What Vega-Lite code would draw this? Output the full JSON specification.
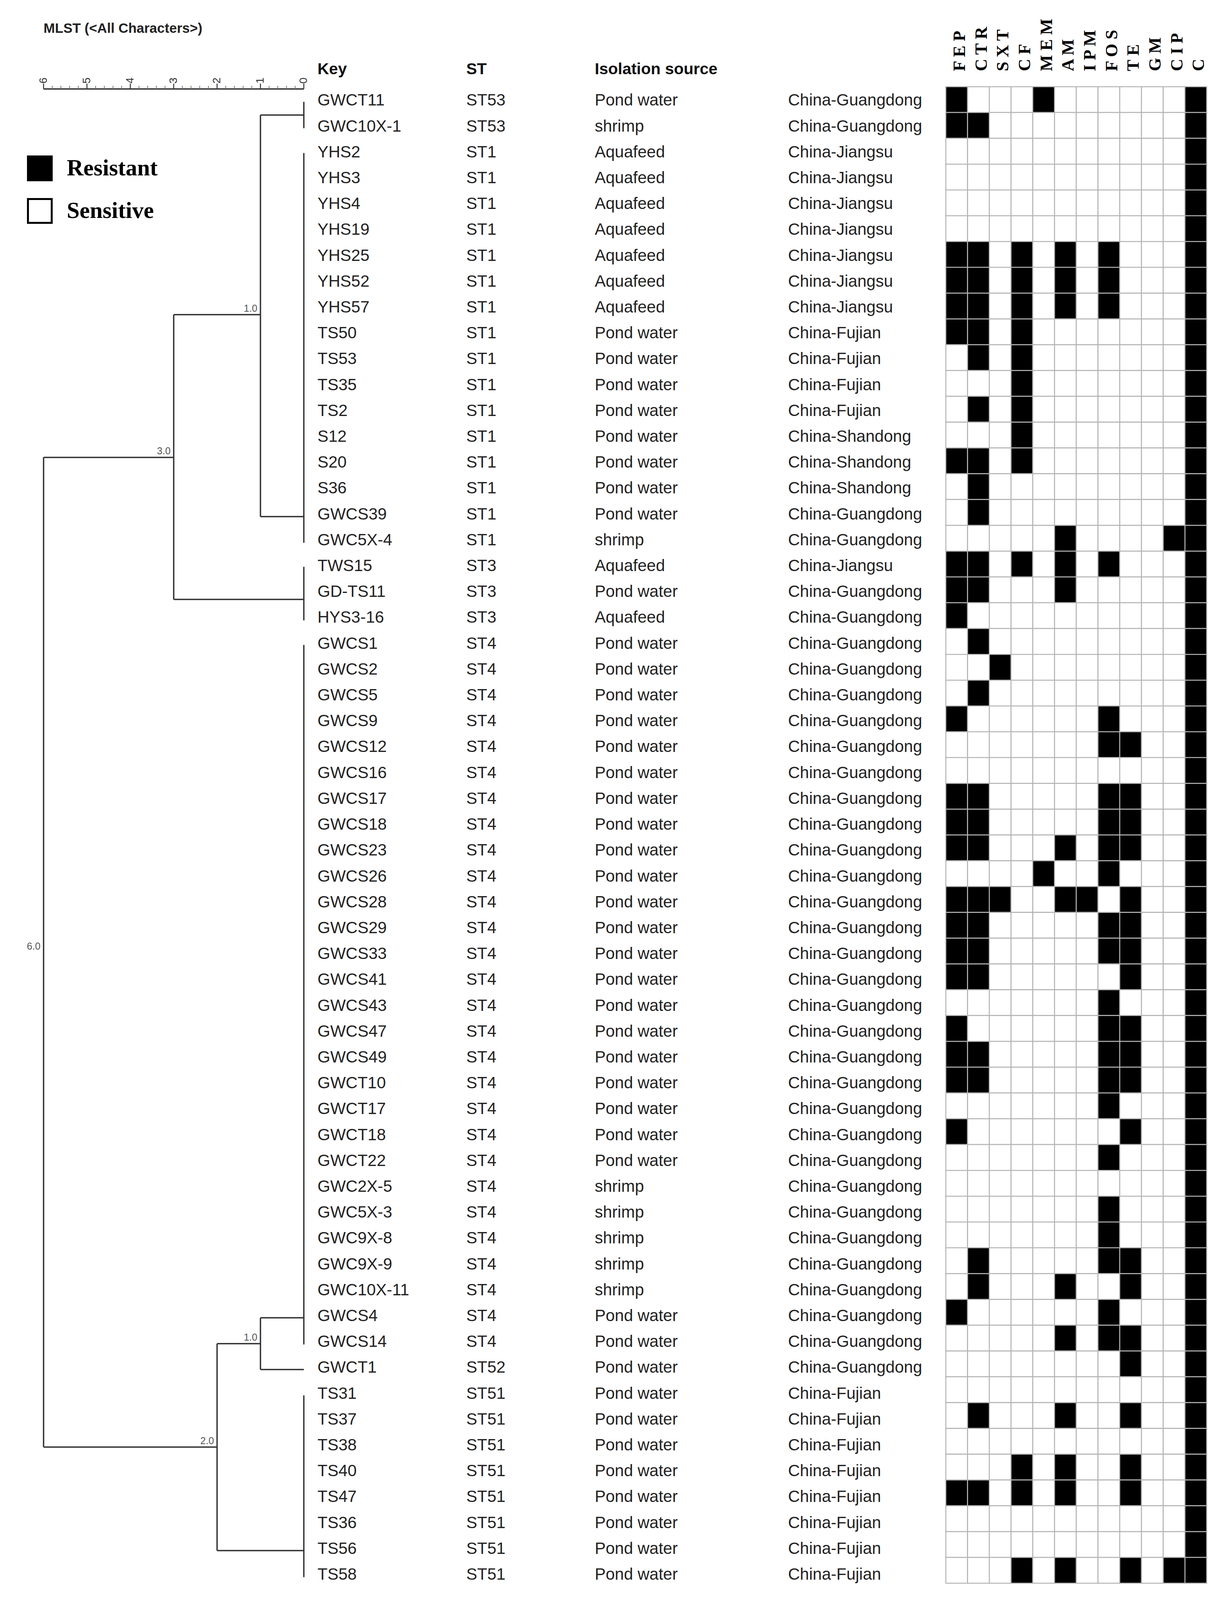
{
"$schema":"https://vega.github.io/schema/vega-lite/v6.json",
"width":3142,"height":4096,
"autosize":{"type":"fit","contains":"padding"},
"padding":0,
"background":"white",
"config":{"view":{"stroke":null},"text":{"font":"Liberation Sans"}},
"datasets":{
"strains":[
{"row":1,"key":"GWCT11","st":"ST53","source":"Pond water","region":"China-Guangdong"},
{"row":2,"key":"GWC10X-1","st":"ST53","source":"shrimp","region":"China-Guangdong"},
{"row":3,"key":"YHS2","st":"ST1","source":"Aquafeed","region":"China-Jiangsu"},
{"row":4,"key":"YHS3","st":"ST1","source":"Aquafeed","region":"China-Jiangsu"},
{"row":5,"key":"YHS4","st":"ST1","source":"Aquafeed","region":"China-Jiangsu"},
{"row":6,"key":"YHS19","st":"ST1","source":"Aquafeed","region":"China-Jiangsu"},
{"row":7,"key":"YHS25","st":"ST1","source":"Aquafeed","region":"China-Jiangsu"},
{"row":8,"key":"YHS52","st":"ST1","source":"Aquafeed","region":"China-Jiangsu"},
{"row":9,"key":"YHS57","st":"ST1","source":"Aquafeed","region":"China-Jiangsu"},
{"row":10,"key":"TS50","st":"ST1","source":"Pond water","region":"China-Fujian"},
{"row":11,"key":"TS53","st":"ST1","source":"Pond water","region":"China-Fujian"},
{"row":12,"key":"TS35","st":"ST1","source":"Pond water","region":"China-Fujian"},
{"row":13,"key":"TS2","st":"ST1","source":"Pond water","region":"China-Fujian"},
{"row":14,"key":"S12","st":"ST1","source":"Pond water","region":"China-Shandong"},
{"row":15,"key":"S20","st":"ST1","source":"Pond water","region":"China-Shandong"},
{"row":16,"key":"S36","st":"ST1","source":"Pond water","region":"China-Shandong"},
{"row":17,"key":"GWCS39","st":"ST1","source":"Pond water","region":"China-Guangdong"},
{"row":18,"key":"GWC5X-4","st":"ST1","source":"shrimp","region":"China-Guangdong"},
{"row":19,"key":"TWS15","st":"ST3","source":"Aquafeed","region":"China-Jiangsu"},
{"row":20,"key":"GD-TS11","st":"ST3","source":"Pond water","region":"China-Guangdong"},
{"row":21,"key":"HYS3-16","st":"ST3","source":"Aquafeed","region":"China-Guangdong"},
{"row":22,"key":"GWCS1","st":"ST4","source":"Pond water","region":"China-Guangdong"},
{"row":23,"key":"GWCS2","st":"ST4","source":"Pond water","region":"China-Guangdong"},
{"row":24,"key":"GWCS5","st":"ST4","source":"Pond water","region":"China-Guangdong"},
{"row":25,"key":"GWCS9","st":"ST4","source":"Pond water","region":"China-Guangdong"},
{"row":26,"key":"GWCS12","st":"ST4","source":"Pond water","region":"China-Guangdong"},
{"row":27,"key":"GWCS16","st":"ST4","source":"Pond water","region":"China-Guangdong"},
{"row":28,"key":"GWCS17","st":"ST4","source":"Pond water","region":"China-Guangdong"},
{"row":29,"key":"GWCS18","st":"ST4","source":"Pond water","region":"China-Guangdong"},
{"row":30,"key":"GWCS23","st":"ST4","source":"Pond water","region":"China-Guangdong"},
{"row":31,"key":"GWCS26","st":"ST4","source":"Pond water","region":"China-Guangdong"},
{"row":32,"key":"GWCS28","st":"ST4","source":"Pond water","region":"China-Guangdong"},
{"row":33,"key":"GWCS29","st":"ST4","source":"Pond water","region":"China-Guangdong"},
{"row":34,"key":"GWCS33","st":"ST4","source":"Pond water","region":"China-Guangdong"},
{"row":35,"key":"GWCS41","st":"ST4","source":"Pond water","region":"China-Guangdong"},
{"row":36,"key":"GWCS43","st":"ST4","source":"Pond water","region":"China-Guangdong"},
{"row":37,"key":"GWCS47","st":"ST4","source":"Pond water","region":"China-Guangdong"},
{"row":38,"key":"GWCS49","st":"ST4","source":"Pond water","region":"China-Guangdong"},
{"row":39,"key":"GWCT10","st":"ST4","source":"Pond water","region":"China-Guangdong"},
{"row":40,"key":"GWCT17","st":"ST4","source":"Pond water","region":"China-Guangdong"},
{"row":41,"key":"GWCT18","st":"ST4","source":"Pond water","region":"China-Guangdong"},
{"row":42,"key":"GWCT22","st":"ST4","source":"Pond water","region":"China-Guangdong"},
{"row":43,"key":"GWC2X-5","st":"ST4","source":"shrimp","region":"China-Guangdong"},
{"row":44,"key":"GWC5X-3","st":"ST4","source":"shrimp","region":"China-Guangdong"},
{"row":45,"key":"GWC9X-8","st":"ST4","source":"shrimp","region":"China-Guangdong"},
{"row":46,"key":"GWC9X-9","st":"ST4","source":"shrimp","region":"China-Guangdong"},
{"row":47,"key":"GWC10X-11","st":"ST4","source":"shrimp","region":"China-Guangdong"},
{"row":48,"key":"GWCS4","st":"ST4","source":"Pond water","region":"China-Guangdong"},
{"row":49,"key":"GWCS14","st":"ST4","source":"Pond water","region":"China-Guangdong"},
{"row":50,"key":"GWCT1","st":"ST52","source":"Pond water","region":"China-Guangdong"},
{"row":51,"key":"TS31","st":"ST51","source":"Pond water","region":"China-Fujian"},
{"row":52,"key":"TS37","st":"ST51","source":"Pond water","region":"China-Fujian"},
{"row":53,"key":"TS38","st":"ST51","source":"Pond water","region":"China-Fujian"},
{"row":54,"key":"TS40","st":"ST51","source":"Pond water","region":"China-Fujian"},
{"row":55,"key":"TS47","st":"ST51","source":"Pond water","region":"China-Fujian"},
{"row":56,"key":"TS36","st":"ST51","source":"Pond water","region":"China-Fujian"},
{"row":57,"key":"TS56","st":"ST51","source":"Pond water","region":"China-Fujian"},
{"row":58,"key":"TS58","st":"ST51","source":"Pond water","region":"China-Fujian"}
],
"branches":[
{"d1":0,"d2":0,"r1":1.05,"r2":2.07},
{"d1":0,"d2":1,"r1":1.56,"r2":1.56},
{"d1":0,"d2":0,"r1":3.03,"r2":18.1},
{"d1":0,"d2":1,"r1":17.09,"r2":17.09},
{"d1":1,"d2":1,"r1":1.56,"r2":17.09},
{"d1":1,"d2":3,"r1":9.28,"r2":9.28},
{"d1":0,"d2":0,"r1":19.03,"r2":21.1},
{"d1":0,"d2":3,"r1":20.29,"r2":20.29},
{"d1":3,"d2":3,"r1":9.28,"r2":20.29},
{"d1":3,"d2":6,"r1":14.8,"r2":14.8},
{"d1":6,"d2":6,"r1":14.8,"r2":53.07},
{"d1":6,"d2":2,"r1":53.07,"r2":53.07},
{"d1":2,"d2":2,"r1":49.07,"r2":57.07},
{"d1":2,"d2":1,"r1":49.07,"r2":49.07},
{"d1":1,"d2":1,"r1":48.07,"r2":50.07},
{"d1":1,"d2":0,"r1":48.07,"r2":48.07},
{"d1":1,"d2":0,"r1":50.07,"r2":50.07},
{"d1":0,"d2":0,"r1":22.05,"r2":49.1},
{"d1":2,"d2":0,"r1":57.07,"r2":57.07},
{"d1":0,"d2":0,"r1":51.07,"r2":58.1},
{"d1":6,"d2":0,"r1":0.551,"r2":0.551}
],
"nodes":[
{"dist":1,"row":9.28,"label":"1.0"},
{"dist":3,"row":14.8,"label":"3.0"},
{"dist":6,"row":33.95,"label":"6.0"},
{"dist":1,"row":49.07,"label":"1.0"},
{"dist":2,"row":53.07,"label":"2.0"}
],
"scaleMajor":[
{"dist":6,"label":"6"},{"dist":5,"label":"5"},{"dist":4,"label":"4"},{"dist":3,"label":"3"},{"dist":2,"label":"2"},{"dist":1,"label":"1"},{"dist":0,"label":"0"}
],
"scaleMinor":[
{"dist":5.8},{"dist":5.6},{"dist":5.4},{"dist":5.2},{"dist":4.8},{"dist":4.6},{"dist":4.4},{"dist":4.2},{"dist":3.8},{"dist":3.6},{"dist":3.4},{"dist":3.2},{"dist":2.8},{"dist":2.6},{"dist":2.4},{"dist":2.2},{"dist":1.8},{"dist":1.6},{"dist":1.4},{"dist":1.2},{"dist":0.8},{"dist":0.6},{"dist":0.4},{"dist":0.2}
],
"drugs":[
{"drug":"FEP","label":"F E P"},{"drug":"CTR","label":"C T R"},{"drug":"SXT","label":"S X T"},{"drug":"CF","label":"C F"},{"drug":"MEM","label":"M E M"},{"drug":"AM","label":"A M"},{"drug":"IPM","label":"I P M"},{"drug":"FOS","label":"F O S"},{"drug":"TE","label":"T E"},{"drug":"GM","label":"G M"},{"drug":"CIP","label":"C I P"},{"drug":"C","label":"C"}
],
"cells":[
{"row":1,"drug":"FEP","res":"R"},{"row":1,"drug":"CTR","res":"S"},{"row":1,"drug":"SXT","res":"S"},{"row":1,"drug":"CF","res":"S"},{"row":1,"drug":"MEM","res":"R"},{"row":1,"drug":"AM","res":"S"},{"row":1,"drug":"IPM","res":"S"},{"row":1,"drug":"FOS","res":"S"},{"row":1,"drug":"TE","res":"S"},{"row":1,"drug":"GM","res":"S"},{"row":1,"drug":"CIP","res":"S"},{"row":1,"drug":"C","res":"R"},
{"row":2,"drug":"FEP","res":"R"},{"row":2,"drug":"CTR","res":"R"},{"row":2,"drug":"SXT","res":"S"},{"row":2,"drug":"CF","res":"S"},{"row":2,"drug":"MEM","res":"S"},{"row":2,"drug":"AM","res":"S"},{"row":2,"drug":"IPM","res":"S"},{"row":2,"drug":"FOS","res":"S"},{"row":2,"drug":"TE","res":"S"},{"row":2,"drug":"GM","res":"S"},{"row":2,"drug":"CIP","res":"S"},{"row":2,"drug":"C","res":"R"},
{"row":3,"drug":"FEP","res":"S"},{"row":3,"drug":"CTR","res":"S"},{"row":3,"drug":"SXT","res":"S"},{"row":3,"drug":"CF","res":"S"},{"row":3,"drug":"MEM","res":"S"},{"row":3,"drug":"AM","res":"S"},{"row":3,"drug":"IPM","res":"S"},{"row":3,"drug":"FOS","res":"S"},{"row":3,"drug":"TE","res":"S"},{"row":3,"drug":"GM","res":"S"},{"row":3,"drug":"CIP","res":"S"},{"row":3,"drug":"C","res":"R"},
{"row":4,"drug":"FEP","res":"S"},{"row":4,"drug":"CTR","res":"S"},{"row":4,"drug":"SXT","res":"S"},{"row":4,"drug":"CF","res":"S"},{"row":4,"drug":"MEM","res":"S"},{"row":4,"drug":"AM","res":"S"},{"row":4,"drug":"IPM","res":"S"},{"row":4,"drug":"FOS","res":"S"},{"row":4,"drug":"TE","res":"S"},{"row":4,"drug":"GM","res":"S"},{"row":4,"drug":"CIP","res":"S"},{"row":4,"drug":"C","res":"R"},
{"row":5,"drug":"FEP","res":"S"},{"row":5,"drug":"CTR","res":"S"},{"row":5,"drug":"SXT","res":"S"},{"row":5,"drug":"CF","res":"S"},{"row":5,"drug":"MEM","res":"S"},{"row":5,"drug":"AM","res":"S"},{"row":5,"drug":"IPM","res":"S"},{"row":5,"drug":"FOS","res":"S"},{"row":5,"drug":"TE","res":"S"},{"row":5,"drug":"GM","res":"S"},{"row":5,"drug":"CIP","res":"S"},{"row":5,"drug":"C","res":"R"},
{"row":6,"drug":"FEP","res":"S"},{"row":6,"drug":"CTR","res":"S"},{"row":6,"drug":"SXT","res":"S"},{"row":6,"drug":"CF","res":"S"},{"row":6,"drug":"MEM","res":"S"},{"row":6,"drug":"AM","res":"S"},{"row":6,"drug":"IPM","res":"S"},{"row":6,"drug":"FOS","res":"S"},{"row":6,"drug":"TE","res":"S"},{"row":6,"drug":"GM","res":"S"},{"row":6,"drug":"CIP","res":"S"},{"row":6,"drug":"C","res":"R"},
{"row":7,"drug":"FEP","res":"R"},{"row":7,"drug":"CTR","res":"R"},{"row":7,"drug":"SXT","res":"S"},{"row":7,"drug":"CF","res":"R"},{"row":7,"drug":"MEM","res":"S"},{"row":7,"drug":"AM","res":"R"},{"row":7,"drug":"IPM","res":"S"},{"row":7,"drug":"FOS","res":"R"},{"row":7,"drug":"TE","res":"S"},{"row":7,"drug":"GM","res":"S"},{"row":7,"drug":"CIP","res":"S"},{"row":7,"drug":"C","res":"R"},
{"row":8,"drug":"FEP","res":"R"},{"row":8,"drug":"CTR","res":"R"},{"row":8,"drug":"SXT","res":"S"},{"row":8,"drug":"CF","res":"R"},{"row":8,"drug":"MEM","res":"S"},{"row":8,"drug":"AM","res":"R"},{"row":8,"drug":"IPM","res":"S"},{"row":8,"drug":"FOS","res":"R"},{"row":8,"drug":"TE","res":"S"},{"row":8,"drug":"GM","res":"S"},{"row":8,"drug":"CIP","res":"S"},{"row":8,"drug":"C","res":"R"},
{"row":9,"drug":"FEP","res":"R"},{"row":9,"drug":"CTR","res":"R"},{"row":9,"drug":"SXT","res":"S"},{"row":9,"drug":"CF","res":"R"},{"row":9,"drug":"MEM","res":"S"},{"row":9,"drug":"AM","res":"R"},{"row":9,"drug":"IPM","res":"S"},{"row":9,"drug":"FOS","res":"R"},{"row":9,"drug":"TE","res":"S"},{"row":9,"drug":"GM","res":"S"},{"row":9,"drug":"CIP","res":"S"},{"row":9,"drug":"C","res":"R"},
{"row":10,"drug":"FEP","res":"R"},{"row":10,"drug":"CTR","res":"R"},{"row":10,"drug":"SXT","res":"S"},{"row":10,"drug":"CF","res":"R"},{"row":10,"drug":"MEM","res":"S"},{"row":10,"drug":"AM","res":"S"},{"row":10,"drug":"IPM","res":"S"},{"row":10,"drug":"FOS","res":"S"},{"row":10,"drug":"TE","res":"S"},{"row":10,"drug":"GM","res":"S"},{"row":10,"drug":"CIP","res":"S"},{"row":10,"drug":"C","res":"R"},
{"row":11,"drug":"FEP","res":"S"},{"row":11,"drug":"CTR","res":"R"},{"row":11,"drug":"SXT","res":"S"},{"row":11,"drug":"CF","res":"R"},{"row":11,"drug":"MEM","res":"S"},{"row":11,"drug":"AM","res":"S"},{"row":11,"drug":"IPM","res":"S"},{"row":11,"drug":"FOS","res":"S"},{"row":11,"drug":"TE","res":"S"},{"row":11,"drug":"GM","res":"S"},{"row":11,"drug":"CIP","res":"S"},{"row":11,"drug":"C","res":"R"},
{"row":12,"drug":"FEP","res":"S"},{"row":12,"drug":"CTR","res":"S"},{"row":12,"drug":"SXT","res":"S"},{"row":12,"drug":"CF","res":"R"},{"row":12,"drug":"MEM","res":"S"},{"row":12,"drug":"AM","res":"S"},{"row":12,"drug":"IPM","res":"S"},{"row":12,"drug":"FOS","res":"S"},{"row":12,"drug":"TE","res":"S"},{"row":12,"drug":"GM","res":"S"},{"row":12,"drug":"CIP","res":"S"},{"row":12,"drug":"C","res":"R"},
{"row":13,"drug":"FEP","res":"S"},{"row":13,"drug":"CTR","res":"R"},{"row":13,"drug":"SXT","res":"S"},{"row":13,"drug":"CF","res":"R"},{"row":13,"drug":"MEM","res":"S"},{"row":13,"drug":"AM","res":"S"},{"row":13,"drug":"IPM","res":"S"},{"row":13,"drug":"FOS","res":"S"},{"row":13,"drug":"TE","res":"S"},{"row":13,"drug":"GM","res":"S"},{"row":13,"drug":"CIP","res":"S"},{"row":13,"drug":"C","res":"R"},
{"row":14,"drug":"FEP","res":"S"},{"row":14,"drug":"CTR","res":"S"},{"row":14,"drug":"SXT","res":"S"},{"row":14,"drug":"CF","res":"R"},{"row":14,"drug":"MEM","res":"S"},{"row":14,"drug":"AM","res":"S"},{"row":14,"drug":"IPM","res":"S"},{"row":14,"drug":"FOS","res":"S"},{"row":14,"drug":"TE","res":"S"},{"row":14,"drug":"GM","res":"S"},{"row":14,"drug":"CIP","res":"S"},{"row":14,"drug":"C","res":"R"},
{"row":15,"drug":"FEP","res":"R"},{"row":15,"drug":"CTR","res":"R"},{"row":15,"drug":"SXT","res":"S"},{"row":15,"drug":"CF","res":"R"},{"row":15,"drug":"MEM","res":"S"},{"row":15,"drug":"AM","res":"S"},{"row":15,"drug":"IPM","res":"S"},{"row":15,"drug":"FOS","res":"S"},{"row":15,"drug":"TE","res":"S"},{"row":15,"drug":"GM","res":"S"},{"row":15,"drug":"CIP","res":"S"},{"row":15,"drug":"C","res":"R"},
{"row":16,"drug":"FEP","res":"S"},{"row":16,"drug":"CTR","res":"R"},{"row":16,"drug":"SXT","res":"S"},{"row":16,"drug":"CF","res":"S"},{"row":16,"drug":"MEM","res":"S"},{"row":16,"drug":"AM","res":"S"},{"row":16,"drug":"IPM","res":"S"},{"row":16,"drug":"FOS","res":"S"},{"row":16,"drug":"TE","res":"S"},{"row":16,"drug":"GM","res":"S"},{"row":16,"drug":"CIP","res":"S"},{"row":16,"drug":"C","res":"R"},
{"row":17,"drug":"FEP","res":"S"},{"row":17,"drug":"CTR","res":"R"},{"row":17,"drug":"SXT","res":"S"},{"row":17,"drug":"CF","res":"S"},{"row":17,"drug":"MEM","res":"S"},{"row":17,"drug":"AM","res":"S"},{"row":17,"drug":"IPM","res":"S"},{"row":17,"drug":"FOS","res":"S"},{"row":17,"drug":"TE","res":"S"},{"row":17,"drug":"GM","res":"S"},{"row":17,"drug":"CIP","res":"S"},{"row":17,"drug":"C","res":"R"},
{"row":18,"drug":"FEP","res":"S"},{"row":18,"drug":"CTR","res":"S"},{"row":18,"drug":"SXT","res":"S"},{"row":18,"drug":"CF","res":"S"},{"row":18,"drug":"MEM","res":"S"},{"row":18,"drug":"AM","res":"R"},{"row":18,"drug":"IPM","res":"S"},{"row":18,"drug":"FOS","res":"S"},{"row":18,"drug":"TE","res":"S"},{"row":18,"drug":"GM","res":"S"},{"row":18,"drug":"CIP","res":"R"},{"row":18,"drug":"C","res":"R"},
{"row":19,"drug":"FEP","res":"R"},{"row":19,"drug":"CTR","res":"R"},{"row":19,"drug":"SXT","res":"S"},{"row":19,"drug":"CF","res":"R"},{"row":19,"drug":"MEM","res":"S"},{"row":19,"drug":"AM","res":"R"},{"row":19,"drug":"IPM","res":"S"},{"row":19,"drug":"FOS","res":"R"},{"row":19,"drug":"TE","res":"S"},{"row":19,"drug":"GM","res":"S"},{"row":19,"drug":"CIP","res":"S"},{"row":19,"drug":"C","res":"R"},
{"row":20,"drug":"FEP","res":"R"},{"row":20,"drug":"CTR","res":"R"},{"row":20,"drug":"SXT","res":"S"},{"row":20,"drug":"CF","res":"S"},{"row":20,"drug":"MEM","res":"S"},{"row":20,"drug":"AM","res":"R"},{"row":20,"drug":"IPM","res":"S"},{"row":20,"drug":"FOS","res":"S"},{"row":20,"drug":"TE","res":"S"},{"row":20,"drug":"GM","res":"S"},{"row":20,"drug":"CIP","res":"S"},{"row":20,"drug":"C","res":"R"},
{"row":21,"drug":"FEP","res":"R"},{"row":21,"drug":"CTR","res":"S"},{"row":21,"drug":"SXT","res":"S"},{"row":21,"drug":"CF","res":"S"},{"row":21,"drug":"MEM","res":"S"},{"row":21,"drug":"AM","res":"S"},{"row":21,"drug":"IPM","res":"S"},{"row":21,"drug":"FOS","res":"S"},{"row":21,"drug":"TE","res":"S"},{"row":21,"drug":"GM","res":"S"},{"row":21,"drug":"CIP","res":"S"},{"row":21,"drug":"C","res":"R"},
{"row":22,"drug":"FEP","res":"S"},{"row":22,"drug":"CTR","res":"R"},{"row":22,"drug":"SXT","res":"S"},{"row":22,"drug":"CF","res":"S"},{"row":22,"drug":"MEM","res":"S"},{"row":22,"drug":"AM","res":"S"},{"row":22,"drug":"IPM","res":"S"},{"row":22,"drug":"FOS","res":"S"},{"row":22,"drug":"TE","res":"S"},{"row":22,"drug":"GM","res":"S"},{"row":22,"drug":"CIP","res":"S"},{"row":22,"drug":"C","res":"R"},
{"row":23,"drug":"FEP","res":"S"},{"row":23,"drug":"CTR","res":"S"},{"row":23,"drug":"SXT","res":"R"},{"row":23,"drug":"CF","res":"S"},{"row":23,"drug":"MEM","res":"S"},{"row":23,"drug":"AM","res":"S"},{"row":23,"drug":"IPM","res":"S"},{"row":23,"drug":"FOS","res":"S"},{"row":23,"drug":"TE","res":"S"},{"row":23,"drug":"GM","res":"S"},{"row":23,"drug":"CIP","res":"S"},{"row":23,"drug":"C","res":"R"},
{"row":24,"drug":"FEP","res":"S"},{"row":24,"drug":"CTR","res":"R"},{"row":24,"drug":"SXT","res":"S"},{"row":24,"drug":"CF","res":"S"},{"row":24,"drug":"MEM","res":"S"},{"row":24,"drug":"AM","res":"S"},{"row":24,"drug":"IPM","res":"S"},{"row":24,"drug":"FOS","res":"S"},{"row":24,"drug":"TE","res":"S"},{"row":24,"drug":"GM","res":"S"},{"row":24,"drug":"CIP","res":"S"},{"row":24,"drug":"C","res":"R"},
{"row":25,"drug":"FEP","res":"R"},{"row":25,"drug":"CTR","res":"S"},{"row":25,"drug":"SXT","res":"S"},{"row":25,"drug":"CF","res":"S"},{"row":25,"drug":"MEM","res":"S"},{"row":25,"drug":"AM","res":"S"},{"row":25,"drug":"IPM","res":"S"},{"row":25,"drug":"FOS","res":"R"},{"row":25,"drug":"TE","res":"S"},{"row":25,"drug":"GM","res":"S"},{"row":25,"drug":"CIP","res":"S"},{"row":25,"drug":"C","res":"R"},
{"row":26,"drug":"FEP","res":"S"},{"row":26,"drug":"CTR","res":"S"},{"row":26,"drug":"SXT","res":"S"},{"row":26,"drug":"CF","res":"S"},{"row":26,"drug":"MEM","res":"S"},{"row":26,"drug":"AM","res":"S"},{"row":26,"drug":"IPM","res":"S"},{"row":26,"drug":"FOS","res":"R"},{"row":26,"drug":"TE","res":"R"},{"row":26,"drug":"GM","res":"S"},{"row":26,"drug":"CIP","res":"S"},{"row":26,"drug":"C","res":"R"},
{"row":27,"drug":"FEP","res":"S"},{"row":27,"drug":"CTR","res":"S"},{"row":27,"drug":"SXT","res":"S"},{"row":27,"drug":"CF","res":"S"},{"row":27,"drug":"MEM","res":"S"},{"row":27,"drug":"AM","res":"S"},{"row":27,"drug":"IPM","res":"S"},{"row":27,"drug":"FOS","res":"S"},{"row":27,"drug":"TE","res":"S"},{"row":27,"drug":"GM","res":"S"},{"row":27,"drug":"CIP","res":"S"},{"row":27,"drug":"C","res":"R"},
{"row":28,"drug":"FEP","res":"R"},{"row":28,"drug":"CTR","res":"R"},{"row":28,"drug":"SXT","res":"S"},{"row":28,"drug":"CF","res":"S"},{"row":28,"drug":"MEM","res":"S"},{"row":28,"drug":"AM","res":"S"},{"row":28,"drug":"IPM","res":"S"},{"row":28,"drug":"FOS","res":"R"},{"row":28,"drug":"TE","res":"R"},{"row":28,"drug":"GM","res":"S"},{"row":28,"drug":"CIP","res":"S"},{"row":28,"drug":"C","res":"R"},
{"row":29,"drug":"FEP","res":"R"},{"row":29,"drug":"CTR","res":"R"},{"row":29,"drug":"SXT","res":"S"},{"row":29,"drug":"CF","res":"S"},{"row":29,"drug":"MEM","res":"S"},{"row":29,"drug":"AM","res":"S"},{"row":29,"drug":"IPM","res":"S"},{"row":29,"drug":"FOS","res":"R"},{"row":29,"drug":"TE","res":"R"},{"row":29,"drug":"GM","res":"S"},{"row":29,"drug":"CIP","res":"S"},{"row":29,"drug":"C","res":"R"},
{"row":30,"drug":"FEP","res":"R"},{"row":30,"drug":"CTR","res":"R"},{"row":30,"drug":"SXT","res":"S"},{"row":30,"drug":"CF","res":"S"},{"row":30,"drug":"MEM","res":"S"},{"row":30,"drug":"AM","res":"R"},{"row":30,"drug":"IPM","res":"S"},{"row":30,"drug":"FOS","res":"R"},{"row":30,"drug":"TE","res":"R"},{"row":30,"drug":"GM","res":"S"},{"row":30,"drug":"CIP","res":"S"},{"row":30,"drug":"C","res":"R"},
{"row":31,"drug":"FEP","res":"S"},{"row":31,"drug":"CTR","res":"S"},{"row":31,"drug":"SXT","res":"S"},{"row":31,"drug":"CF","res":"S"},{"row":31,"drug":"MEM","res":"R"},{"row":31,"drug":"AM","res":"S"},{"row":31,"drug":"IPM","res":"S"},{"row":31,"drug":"FOS","res":"R"},{"row":31,"drug":"TE","res":"S"},{"row":31,"drug":"GM","res":"S"},{"row":31,"drug":"CIP","res":"S"},{"row":31,"drug":"C","res":"R"},
{"row":32,"drug":"FEP","res":"R"},{"row":32,"drug":"CTR","res":"R"},{"row":32,"drug":"SXT","res":"R"},{"row":32,"drug":"CF","res":"S"},{"row":32,"drug":"MEM","res":"S"},{"row":32,"drug":"AM","res":"R"},{"row":32,"drug":"IPM","res":"R"},{"row":32,"drug":"FOS","res":"S"},{"row":32,"drug":"TE","res":"R"},{"row":32,"drug":"GM","res":"S"},{"row":32,"drug":"CIP","res":"S"},{"row":32,"drug":"C","res":"R"},
{"row":33,"drug":"FEP","res":"R"},{"row":33,"drug":"CTR","res":"R"},{"row":33,"drug":"SXT","res":"S"},{"row":33,"drug":"CF","res":"S"},{"row":33,"drug":"MEM","res":"S"},{"row":33,"drug":"AM","res":"S"},{"row":33,"drug":"IPM","res":"S"},{"row":33,"drug":"FOS","res":"R"},{"row":33,"drug":"TE","res":"R"},{"row":33,"drug":"GM","res":"S"},{"row":33,"drug":"CIP","res":"S"},{"row":33,"drug":"C","res":"R"},
{"row":34,"drug":"FEP","res":"R"},{"row":34,"drug":"CTR","res":"R"},{"row":34,"drug":"SXT","res":"S"},{"row":34,"drug":"CF","res":"S"},{"row":34,"drug":"MEM","res":"S"},{"row":34,"drug":"AM","res":"S"},{"row":34,"drug":"IPM","res":"S"},{"row":34,"drug":"FOS","res":"R"},{"row":34,"drug":"TE","res":"R"},{"row":34,"drug":"GM","res":"S"},{"row":34,"drug":"CIP","res":"S"},{"row":34,"drug":"C","res":"R"},
{"row":35,"drug":"FEP","res":"R"},{"row":35,"drug":"CTR","res":"R"},{"row":35,"drug":"SXT","res":"S"},{"row":35,"drug":"CF","res":"S"},{"row":35,"drug":"MEM","res":"S"},{"row":35,"drug":"AM","res":"S"},{"row":35,"drug":"IPM","res":"S"},{"row":35,"drug":"FOS","res":"S"},{"row":35,"drug":"TE","res":"R"},{"row":35,"drug":"GM","res":"S"},{"row":35,"drug":"CIP","res":"S"},{"row":35,"drug":"C","res":"R"},
{"row":36,"drug":"FEP","res":"S"},{"row":36,"drug":"CTR","res":"S"},{"row":36,"drug":"SXT","res":"S"},{"row":36,"drug":"CF","res":"S"},{"row":36,"drug":"MEM","res":"S"},{"row":36,"drug":"AM","res":"S"},{"row":36,"drug":"IPM","res":"S"},{"row":36,"drug":"FOS","res":"R"},{"row":36,"drug":"TE","res":"S"},{"row":36,"drug":"GM","res":"S"},{"row":36,"drug":"CIP","res":"S"},{"row":36,"drug":"C","res":"R"},
{"row":37,"drug":"FEP","res":"R"},{"row":37,"drug":"CTR","res":"S"},{"row":37,"drug":"SXT","res":"S"},{"row":37,"drug":"CF","res":"S"},{"row":37,"drug":"MEM","res":"S"},{"row":37,"drug":"AM","res":"S"},{"row":37,"drug":"IPM","res":"S"},{"row":37,"drug":"FOS","res":"R"},{"row":37,"drug":"TE","res":"R"},{"row":37,"drug":"GM","res":"S"},{"row":37,"drug":"CIP","res":"S"},{"row":37,"drug":"C","res":"R"},
{"row":38,"drug":"FEP","res":"R"},{"row":38,"drug":"CTR","res":"R"},{"row":38,"drug":"SXT","res":"S"},{"row":38,"drug":"CF","res":"S"},{"row":38,"drug":"MEM","res":"S"},{"row":38,"drug":"AM","res":"S"},{"row":38,"drug":"IPM","res":"S"},{"row":38,"drug":"FOS","res":"R"},{"row":38,"drug":"TE","res":"R"},{"row":38,"drug":"GM","res":"S"},{"row":38,"drug":"CIP","res":"S"},{"row":38,"drug":"C","res":"R"},
{"row":39,"drug":"FEP","res":"R"},{"row":39,"drug":"CTR","res":"R"},{"row":39,"drug":"SXT","res":"S"},{"row":39,"drug":"CF","res":"S"},{"row":39,"drug":"MEM","res":"S"},{"row":39,"drug":"AM","res":"S"},{"row":39,"drug":"IPM","res":"S"},{"row":39,"drug":"FOS","res":"R"},{"row":39,"drug":"TE","res":"R"},{"row":39,"drug":"GM","res":"S"},{"row":39,"drug":"CIP","res":"S"},{"row":39,"drug":"C","res":"R"},
{"row":40,"drug":"FEP","res":"S"},{"row":40,"drug":"CTR","res":"S"},{"row":40,"drug":"SXT","res":"S"},{"row":40,"drug":"CF","res":"S"},{"row":40,"drug":"MEM","res":"S"},{"row":40,"drug":"AM","res":"S"},{"row":40,"drug":"IPM","res":"S"},{"row":40,"drug":"FOS","res":"R"},{"row":40,"drug":"TE","res":"S"},{"row":40,"drug":"GM","res":"S"},{"row":40,"drug":"CIP","res":"S"},{"row":40,"drug":"C","res":"R"},
{"row":41,"drug":"FEP","res":"R"},{"row":41,"drug":"CTR","res":"S"},{"row":41,"drug":"SXT","res":"S"},{"row":41,"drug":"CF","res":"S"},{"row":41,"drug":"MEM","res":"S"},{"row":41,"drug":"AM","res":"S"},{"row":41,"drug":"IPM","res":"S"},{"row":41,"drug":"FOS","res":"S"},{"row":41,"drug":"TE","res":"R"},{"row":41,"drug":"GM","res":"S"},{"row":41,"drug":"CIP","res":"S"},{"row":41,"drug":"C","res":"R"},
{"row":42,"drug":"FEP","res":"S"},{"row":42,"drug":"CTR","res":"S"},{"row":42,"drug":"SXT","res":"S"},{"row":42,"drug":"CF","res":"S"},{"row":42,"drug":"MEM","res":"S"},{"row":42,"drug":"AM","res":"S"},{"row":42,"drug":"IPM","res":"S"},{"row":42,"drug":"FOS","res":"R"},{"row":42,"drug":"TE","res":"S"},{"row":42,"drug":"GM","res":"S"},{"row":42,"drug":"CIP","res":"S"},{"row":42,"drug":"C","res":"R"},
{"row":43,"drug":"FEP","res":"S"},{"row":43,"drug":"CTR","res":"S"},{"row":43,"drug":"SXT","res":"S"},{"row":43,"drug":"CF","res":"S"},{"row":43,"drug":"MEM","res":"S"},{"row":43,"drug":"AM","res":"S"},{"row":43,"drug":"IPM","res":"S"},{"row":43,"drug":"FOS","res":"S"},{"row":43,"drug":"TE","res":"S"},{"row":43,"drug":"GM","res":"S"},{"row":43,"drug":"CIP","res":"S"},{"row":43,"drug":"C","res":"R"},
{"row":44,"drug":"FEP","res":"S"},{"row":44,"drug":"CTR","res":"S"},{"row":44,"drug":"SXT","res":"S"},{"row":44,"drug":"CF","res":"S"},{"row":44,"drug":"MEM","res":"S"},{"row":44,"drug":"AM","res":"S"},{"row":44,"drug":"IPM","res":"S"},{"row":44,"drug":"FOS","res":"R"},{"row":44,"drug":"TE","res":"S"},{"row":44,"drug":"GM","res":"S"},{"row":44,"drug":"CIP","res":"S"},{"row":44,"drug":"C","res":"R"},
{"row":45,"drug":"FEP","res":"S"},{"row":45,"drug":"CTR","res":"S"},{"row":45,"drug":"SXT","res":"S"},{"row":45,"drug":"CF","res":"S"},{"row":45,"drug":"MEM","res":"S"},{"row":45,"drug":"AM","res":"S"},{"row":45,"drug":"IPM","res":"S"},{"row":45,"drug":"FOS","res":"R"},{"row":45,"drug":"TE","res":"S"},{"row":45,"drug":"GM","res":"S"},{"row":45,"drug":"CIP","res":"S"},{"row":45,"drug":"C","res":"R"},
{"row":46,"drug":"FEP","res":"S"},{"row":46,"drug":"CTR","res":"R"},{"row":46,"drug":"SXT","res":"S"},{"row":46,"drug":"CF","res":"S"},{"row":46,"drug":"MEM","res":"S"},{"row":46,"drug":"AM","res":"S"},{"row":46,"drug":"IPM","res":"S"},{"row":46,"drug":"FOS","res":"R"},{"row":46,"drug":"TE","res":"R"},{"row":46,"drug":"GM","res":"S"},{"row":46,"drug":"CIP","res":"S"},{"row":46,"drug":"C","res":"R"},
{"row":47,"drug":"FEP","res":"S"},{"row":47,"drug":"CTR","res":"R"},{"row":47,"drug":"SXT","res":"S"},{"row":47,"drug":"CF","res":"S"},{"row":47,"drug":"MEM","res":"S"},{"row":47,"drug":"AM","res":"R"},{"row":47,"drug":"IPM","res":"S"},{"row":47,"drug":"FOS","res":"S"},{"row":47,"drug":"TE","res":"R"},{"row":47,"drug":"GM","res":"S"},{"row":47,"drug":"CIP","res":"S"},{"row":47,"drug":"C","res":"R"},
{"row":48,"drug":"FEP","res":"R"},{"row":48,"drug":"CTR","res":"S"},{"row":48,"drug":"SXT","res":"S"},{"row":48,"drug":"CF","res":"S"},{"row":48,"drug":"MEM","res":"S"},{"row":48,"drug":"AM","res":"S"},{"row":48,"drug":"IPM","res":"S"},{"row":48,"drug":"FOS","res":"R"},{"row":48,"drug":"TE","res":"S"},{"row":48,"drug":"GM","res":"S"},{"row":48,"drug":"CIP","res":"S"},{"row":48,"drug":"C","res":"R"},
{"row":49,"drug":"FEP","res":"S"},{"row":49,"drug":"CTR","res":"S"},{"row":49,"drug":"SXT","res":"S"},{"row":49,"drug":"CF","res":"S"},{"row":49,"drug":"MEM","res":"S"},{"row":49,"drug":"AM","res":"R"},{"row":49,"drug":"IPM","res":"S"},{"row":49,"drug":"FOS","res":"R"},{"row":49,"drug":"TE","res":"R"},{"row":49,"drug":"GM","res":"S"},{"row":49,"drug":"CIP","res":"S"},{"row":49,"drug":"C","res":"R"},
{"row":50,"drug":"FEP","res":"S"},{"row":50,"drug":"CTR","res":"S"},{"row":50,"drug":"SXT","res":"S"},{"row":50,"drug":"CF","res":"S"},{"row":50,"drug":"MEM","res":"S"},{"row":50,"drug":"AM","res":"S"},{"row":50,"drug":"IPM","res":"S"},{"row":50,"drug":"FOS","res":"S"},{"row":50,"drug":"TE","res":"R"},{"row":50,"drug":"GM","res":"S"},{"row":50,"drug":"CIP","res":"S"},{"row":50,"drug":"C","res":"R"},
{"row":51,"drug":"FEP","res":"S"},{"row":51,"drug":"CTR","res":"S"},{"row":51,"drug":"SXT","res":"S"},{"row":51,"drug":"CF","res":"S"},{"row":51,"drug":"MEM","res":"S"},{"row":51,"drug":"AM","res":"S"},{"row":51,"drug":"IPM","res":"S"},{"row":51,"drug":"FOS","res":"S"},{"row":51,"drug":"TE","res":"S"},{"row":51,"drug":"GM","res":"S"},{"row":51,"drug":"CIP","res":"S"},{"row":51,"drug":"C","res":"R"},
{"row":52,"drug":"FEP","res":"S"},{"row":52,"drug":"CTR","res":"R"},{"row":52,"drug":"SXT","res":"S"},{"row":52,"drug":"CF","res":"S"},{"row":52,"drug":"MEM","res":"S"},{"row":52,"drug":"AM","res":"R"},{"row":52,"drug":"IPM","res":"S"},{"row":52,"drug":"FOS","res":"S"},{"row":52,"drug":"TE","res":"R"},{"row":52,"drug":"GM","res":"S"},{"row":52,"drug":"CIP","res":"S"},{"row":52,"drug":"C","res":"R"},
{"row":53,"drug":"FEP","res":"S"},{"row":53,"drug":"CTR","res":"S"},{"row":53,"drug":"SXT","res":"S"},{"row":53,"drug":"CF","res":"S"},{"row":53,"drug":"MEM","res":"S"},{"row":53,"drug":"AM","res":"S"},{"row":53,"drug":"IPM","res":"S"},{"row":53,"drug":"FOS","res":"S"},{"row":53,"drug":"TE","res":"S"},{"row":53,"drug":"GM","res":"S"},{"row":53,"drug":"CIP","res":"S"},{"row":53,"drug":"C","res":"R"},
{"row":54,"drug":"FEP","res":"S"},{"row":54,"drug":"CTR","res":"S"},{"row":54,"drug":"SXT","res":"S"},{"row":54,"drug":"CF","res":"R"},{"row":54,"drug":"MEM","res":"S"},{"row":54,"drug":"AM","res":"R"},{"row":54,"drug":"IPM","res":"S"},{"row":54,"drug":"FOS","res":"S"},{"row":54,"drug":"TE","res":"R"},{"row":54,"drug":"GM","res":"S"},{"row":54,"drug":"CIP","res":"S"},{"row":54,"drug":"C","res":"R"},
{"row":55,"drug":"FEP","res":"R"},{"row":55,"drug":"CTR","res":"R"},{"row":55,"drug":"SXT","res":"S"},{"row":55,"drug":"CF","res":"R"},{"row":55,"drug":"MEM","res":"S"},{"row":55,"drug":"AM","res":"R"},{"row":55,"drug":"IPM","res":"S"},{"row":55,"drug":"FOS","res":"S"},{"row":55,"drug":"TE","res":"R"},{"row":55,"drug":"GM","res":"S"},{"row":55,"drug":"CIP","res":"S"},{"row":55,"drug":"C","res":"R"},
{"row":56,"drug":"FEP","res":"S"},{"row":56,"drug":"CTR","res":"S"},{"row":56,"drug":"SXT","res":"S"},{"row":56,"drug":"CF","res":"S"},{"row":56,"drug":"MEM","res":"S"},{"row":56,"drug":"AM","res":"S"},{"row":56,"drug":"IPM","res":"S"},{"row":56,"drug":"FOS","res":"S"},{"row":56,"drug":"TE","res":"S"},{"row":56,"drug":"GM","res":"S"},{"row":56,"drug":"CIP","res":"S"},{"row":56,"drug":"C","res":"R"},
{"row":57,"drug":"FEP","res":"S"},{"row":57,"drug":"CTR","res":"S"},{"row":57,"drug":"SXT","res":"S"},{"row":57,"drug":"CF","res":"S"},{"row":57,"drug":"MEM","res":"S"},{"row":57,"drug":"AM","res":"S"},{"row":57,"drug":"IPM","res":"S"},{"row":57,"drug":"FOS","res":"S"},{"row":57,"drug":"TE","res":"S"},{"row":57,"drug":"GM","res":"S"},{"row":57,"drug":"CIP","res":"S"},{"row":57,"drug":"C","res":"R"},
{"row":58,"drug":"FEP","res":"S"},{"row":58,"drug":"CTR","res":"S"},{"row":58,"drug":"SXT","res":"S"},{"row":58,"drug":"CF","res":"R"},{"row":58,"drug":"MEM","res":"S"},{"row":58,"drug":"AM","res":"R"},{"row":58,"drug":"IPM","res":"S"},{"row":58,"drug":"FOS","res":"S"},{"row":58,"drug":"TE","res":"R"},{"row":58,"drug":"GM","res":"S"},{"row":58,"drug":"CIP","res":"R"},{"row":58,"drug":"C","res":"R"}
]
},
"resolve":{"scale":{"x":"independent","y":"independent"},"axis":{"x":"independent","y":"independent"}},
"layer":[
{"data":{"name":"cells"},
 "mark":{"type":"rect","stroke":"#b4b4b4","strokeWidth":2.5},
 "encoding":{
  "x":{"field":"drug","type":"nominal","axis":null,"sort":null,"scale":{"domain":["FEP","CTR","SXT","CF","MEM","AM","IPM","FOS","TE","GM","CIP","C"],"type":"band","range":[2422,3090],"paddingInner":0,"paddingOuter":0}},
  "y":{"field":"row","type":"ordinal","axis":null,"scale":{"type":"band","range":[222,4053],"paddingInner":0,"paddingOuter":0}},
  "fill":{"field":"res","type":"nominal","scale":{"domain":["R","S"],"range":["#000000","#ffffff"]},
   "legend":{"orient":"none","legendX":69,"legendY":398,"title":null,"padding":0,"symbolType":"square","symbolSize":3700,"symbolStrokeColor":"#000000","symbolStrokeWidth":5,"labelFont":"Liberation Serif","labelFontWeight":"bold","labelFontSize":59,"labelColor":"#000000","labelOffset":36,"labelLimit":500,"rowPadding":27,"labelExpr":"datum.label == 'R' ? 'Resistant' : 'Sensitive'"}}
 }},
{"data":{"name":"drugs"},
 "mark":{"type":"text","font":"Liberation Serif","fontWeight":"bold","fontSize":44,"angle":270,"align":"left","baseline":"middle","dy":8,"color":"#000000"},
 "encoding":{
  "x":{"field":"drug","type":"nominal","axis":null,"sort":null,"scale":{"domain":["FEP","CTR","SXT","CF","MEM","AM","IPM","FOS","TE","GM","CIP","C"],"type":"band","range":[2422,3090],"paddingInner":0,"paddingOuter":0}},
  "y":{"datum":-0.137,"type":"quantitative","axis":null,"scale":{"domain":[1,58],"range":[257.4,4031],"nice":false,"zero":false}},
  "text":{"field":"label"}
 }},
{"data":{"name":"branches"},
 "mark":{"type":"rule","stroke":"#333333","strokeWidth":3.5},
 "encoding":{
  "x":{"field":"d1","type":"quantitative","axis":null,"scale":{"domain":[6,0],"range":[111.6,778],"nice":false,"zero":false}},
  "x2":{"field":"d2"},
  "y":{"field":"r1","type":"quantitative","axis":null,"scale":{"domain":[1,58],"range":[257.4,4031],"nice":false,"zero":false}},
  "y2":{"field":"r2"}
 }},
{"data":{"name":"scaleMajor"},
 "mark":{"type":"rule","stroke":"#333333","strokeWidth":2.5},
 "encoding":{
  "x":{"field":"dist","type":"quantitative","axis":null,"scale":{"domain":[6,0],"range":[111.6,778],"nice":false,"zero":false}},
  "y":{"datum":0.551,"type":"quantitative","axis":null,"scale":{"domain":[1,58],"range":[257.4,4031],"nice":false,"zero":false}},
  "y2":{"datum":0.345}
 }},
{"data":{"name":"scaleMinor"},
 "mark":{"type":"rule","stroke":"#777777","strokeWidth":2},
 "encoding":{
  "x":{"field":"dist","type":"quantitative","axis":null,"scale":{"domain":[6,0],"range":[111.6,778],"nice":false,"zero":false}},
  "y":{"datum":0.551,"type":"quantitative","axis":null,"scale":{"domain":[1,58],"range":[257.4,4031],"nice":false,"zero":false}},
  "y2":{"datum":0.43}
 }},
{"data":{"name":"scaleMajor"},
 "mark":{"type":"text","fontSize":28,"angle":270,"align":"center","baseline":"middle","color":"#333333"},
 "encoding":{
  "x":{"field":"dist","type":"quantitative","axis":null,"scale":{"domain":[6,0],"range":[111.6,778],"nice":false,"zero":false}},
  "y":{"datum":0.228,"type":"quantitative","axis":null,"scale":{"domain":[1,58],"range":[257.4,4031],"nice":false,"zero":false}},
  "text":{"field":"label"}
 }},
{"data":{"name":"nodes"},
 "mark":{"type":"text","fontSize":25,"align":"right","baseline":"bottom","dx":-8,"dy":-3,"color":"#555555"},
 "encoding":{
  "x":{"field":"dist","type":"quantitative","axis":null,"scale":{"domain":[6,0],"range":[111.6,778],"nice":false,"zero":false}},
  "y":{"field":"row","type":"quantitative","axis":null,"scale":{"domain":[1,58],"range":[257.4,4031],"nice":false,"zero":false}},
  "text":{"field":"label"}
 }},
{"data":{"values":[{"dist":6,"row":-1.79,"label":"MLST (<All Characters>)"}]},
 "mark":{"type":"text","fontSize":35,"fontWeight":"bold","align":"left","baseline":"middle","color":"#222222"},
 "encoding":{
  "x":{"field":"dist","type":"quantitative","axis":null,"scale":{"domain":[6,0],"range":[111.6,778],"nice":false,"zero":false}},
  "y":{"field":"row","type":"quantitative","axis":null,"scale":{"domain":[1,58],"range":[257.4,4031],"nice":false,"zero":false}},
  "text":{"field":"label"}
 }},
{"data":{"name":"strains"},
 "mark":{"type":"text","fontSize":42,"align":"left","baseline":"middle","color":"#222222"},
 "encoding":{
  "x":{"datum":"Key","type":"nominal","axis":null,"scale":{"type":"point","domain":["Key"],"range":[813,813]}},
  "y":{"field":"row","type":"quantitative","axis":null,"scale":{"domain":[1,58],"range":[257.4,4031],"nice":false,"zero":false}},
  "text":{"field":"key"}
 }},
{"data":{"name":"strains"},
 "mark":{"type":"text","fontSize":42,"align":"left","baseline":"middle","color":"#222222"},
 "encoding":{
  "x":{"datum":"ST","type":"nominal","axis":null,"scale":{"type":"point","domain":["ST"],"range":[1194,1194]}},
  "y":{"field":"row","type":"quantitative","axis":null,"scale":{"domain":[1,58],"range":[257.4,4031],"nice":false,"zero":false}},
  "text":{"field":"st"}
 }},
{"data":{"name":"strains"},
 "mark":{"type":"text","fontSize":42,"align":"left","baseline":"middle","color":"#222222"},
 "encoding":{
  "x":{"datum":"Isolation source","type":"nominal","axis":null,"scale":{"type":"point","domain":["Isolation source"],"range":[1523,1523]}},
  "y":{"field":"row","type":"quantitative","axis":null,"scale":{"domain":[1,58],"range":[257.4,4031],"nice":false,"zero":false}},
  "text":{"field":"source"}
 }},
{"data":{"name":"strains"},
 "mark":{"type":"text","fontSize":42,"align":"left","baseline":"middle","color":"#222222"},
 "encoding":{
  "x":{"datum":"Region","type":"nominal","axis":null,"scale":{"type":"point","domain":["Region"],"range":[2018,2018]}},
  "y":{"field":"row","type":"quantitative","axis":null,"scale":{"domain":[1,58],"range":[257.4,4031],"nice":false,"zero":false}},
  "text":{"field":"region"}
 }},
{"data":{"values":[{"col":"Key","row":-0.2}]},
 "mark":{"type":"text","fontSize":41,"fontWeight":"bold","align":"left","baseline":"middle","color":"#111111"},
 "encoding":{
  "x":{"field":"col","type":"nominal","axis":null,"scale":{"type":"point","domain":["Key"],"range":[813,813]}},
  "y":{"field":"row","type":"quantitative","axis":null,"scale":{"domain":[1,58],"range":[257.4,4031],"nice":false,"zero":false}},
  "text":{"field":"col"}
 }},
{"data":{"values":[{"col":"ST","row":-0.2}]},
 "mark":{"type":"text","fontSize":41,"fontWeight":"bold","align":"left","baseline":"middle","color":"#111111"},
 "encoding":{
  "x":{"field":"col","type":"nominal","axis":null,"scale":{"type":"point","domain":["ST"],"range":[1194,1194]}},
  "y":{"field":"row","type":"quantitative","axis":null,"scale":{"domain":[1,58],"range":[257.4,4031],"nice":false,"zero":false}},
  "text":{"field":"col"}
 }},
{"data":{"values":[{"col":"Isolation source","row":-0.2}]},
 "mark":{"type":"text","fontSize":41,"fontWeight":"bold","align":"left","baseline":"middle","color":"#111111"},
 "encoding":{
  "x":{"field":"col","type":"nominal","axis":null,"scale":{"type":"point","domain":["Isolation source"],"range":[1523,1523]}},
  "y":{"field":"row","type":"quantitative","axis":null,"scale":{"domain":[1,58],"range":[257.4,4031],"nice":false,"zero":false}},
  "text":{"field":"col"}
 }}
]
}
